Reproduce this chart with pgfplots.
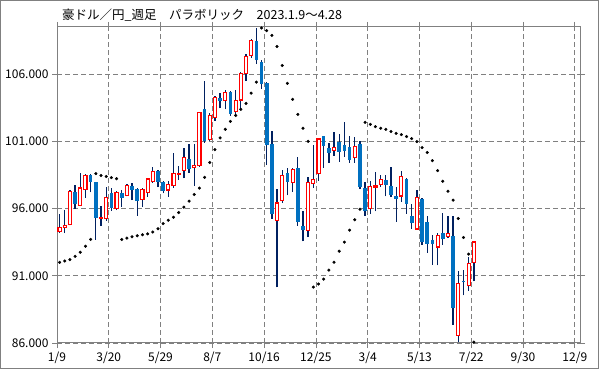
\documentclass[border=0pt]{standalone}
\usepackage{pgfplots}
\pgfplotsset{compat=1.18}
\usepackage{pgfplotstable}
\usepackage{fontspec}
\setmainfont{Noto Sans CJK JP}
\definecolor{candleblue}{RGB}{0,112,192}
\definecolor{candlered}{RGB}{255,0,0}
\definecolor{wick}{RGB}{0,32,96}
\definecolor{gridgray}{RGB}{128,128,128}

% up (red, hollow) candles: index, open, high, low, close
\pgfplotstableread{
i o h l c
0 94.28 95.63 94.18 94.58
1 94.58 95.88 94.18 94.73
2 94.80 97.38 94.75 97.28
4 96.23 98.63 96.20 97.53
5 97.43 98.55 96.80 98.48
8 95.27 96.18 94.70 95.32
9 95.25 97.58 95.10 96.83
11 96.00 97.30 95.88 97.20
13 96.98 97.83 96.90 97.73
16 96.68 97.55 96.13 97.43
17 97.20 98.30 96.88 98.20
18 97.98 99.08 97.90 98.75
21 97.38 98.08 96.88 97.80
22 97.73 100.15 97.55 98.63
23 98.53 99.20 98.13 98.63
24 98.85 100.48 98.25 99.81
26 99.04 100.78 97.70 99.22
27 99.19 103.20 99.10 103.15
29 101.15 103.08 101.00 102.90
30 102.78 104.34 102.51 104.27
32 104.02 104.81 103.38 104.66
34 103.20 104.81 102.96 104.04
35 104.07 106.12 103.38 106.05
36 106.05 107.49 105.48 107.34
37 107.39 108.60 107.20 108.52
42 95.13 97.44 90.13 96.42
43 96.62 98.90 96.40 98.48
45 97.96 99.02 97.26 98.90
48 94.37 98.35 93.87 97.96
49 97.88 100.75 97.56 98.18
50 98.62 101.25 98.08 101.17
53 100.33 101.67 99.94 100.55
57 99.81 101.35 99.42 100.63
60 95.98 98.03 95.58 97.66
61 97.60 98.75 95.78 97.70
62 97.80 98.50 97.63 98.15
66 96.92 98.77 96.52 98.40
69 94.47 97.39 94.42 96.82
73 93.13 94.17 91.77 94.02
75 93.92 95.41 93.80 94.17
77 86.57 91.35 86.07 90.43
79 90.26 92.41 89.90 91.94
80 91.99 93.60 90.58 93.52
}\upData

% down (blue, filled) candles: index, open, high, low, close
\pgfplotstableread{
i o h l c
3 97.20 97.73 96.00 96.33
6 98.48 98.55 97.20 98.00
7 97.98 98.00 93.68 95.30
10 97.15 97.55 95.85 96.05
12 97.15 97.38 96.10 96.80
14 97.70 97.93 96.63 97.38
15 97.43 97.55 95.45 96.55
19 98.80 98.88 97.60 98.00
20 98.00 98.08 97.13 97.33
25 99.69 100.78 98.67 98.97
28 103.38 105.46 100.90 101.05
31 104.22 104.56 103.45 104.02
33 104.66 104.76 102.90 103.05
38 108.45 109.40 106.74 107.04
39 106.92 107.04 104.90 105.23
40 105.36 105.43 99.22 100.73
41 100.80 101.77 95.23 95.58
44 98.62 99.02 96.97 97.98
46 99.02 99.84 94.73 95.03
47 94.71 95.80 93.55 94.42
51 101.40 101.40 99.02 100.68
52 100.50 100.85 99.42 100.16
54 100.95 101.54 99.49 100.23
55 100.70 102.41 99.84 100.31
56 100.58 101.37 99.42 99.59
58 100.78 101.05 97.44 97.63
59 97.51 98.00 95.48 95.78
63 98.10 98.50 96.90 97.78
64 97.68 99.12 96.84 96.97
65 96.94 97.58 95.00 96.74
67 98.20 98.25 95.63 96.37
68 95.46 96.32 94.47 94.89
70 96.72 96.77 93.30 93.48
71 94.99 95.41 92.73 93.38
72 93.67 94.04 91.82 93.33
74 94.19 95.65 93.30 93.70
76 93.95 95.41 87.36 88.62
78 90.63 91.40 89.54 90.53
}\downData

% parabolic SAR
\pgfplotstableread{
i s
0 92.00
1 92.10
2 92.20
3 92.45
4 92.75
5 93.20
6 93.70
7 98.60
8 98.45
9 98.38
10 98.30
11 98.22
12 93.70
13 93.80
14 93.90
15 93.98
16 94.05
17 94.12
18 94.25
19 94.50
20 94.88
21 95.13
22 95.35
23 95.70
24 96.10
25 96.55
26 97.05
27 97.52
28 98.32
29 99.43
30 100.38
31 101.25
32 101.89
33 102.48
34 102.92
35 103.38
36 103.82
37 104.58
38 105.40
39 109.43
40 109.23
41 108.87
42 108.05
43 106.64
44 105.31
45 104.12
46 103.00
47 101.97
48 101.00
49 90.16
50 90.38
51 90.75
52 91.42
53 92.01
54 92.83
55 93.50
56 94.39
57 95.16
58 95.95
59 102.41
60 102.26
61 102.09
62 101.97
63 101.89
64 101.72
65 101.59
66 101.50
67 101.35
68 101.20
69 100.98
70 100.53
71 100.16
72 99.56
73 98.82
74 98.03
75 97.29
76 96.62
77 95.26
78 93.85
79 92.61
80 86.07
}\sarData

\begin{document}
\begin{tikzpicture}
\useasboundingbox (0,0) rectangle (599bp,369bp);
\fill[white] (0,0) rectangle (599bp,369bp);
\draw[gridgray, line width=1bp] (0.5bp,0.5bp) rectangle (598.5bp,368.5bp);
\node[anchor=west, inner sep=0pt, font=\fontsize{12.5bp}{14bp}\selectfont] at (62bp,354bp)
  {豪ドル／円\_週足　パラボリック　2023.1.9～4.28};
\begin{axis}[
  at={(57bp,26bp)}, anchor=south west,
  scale only axis, width=523bp, height=316bp,
  xmin=0, xmax=101, ymin=86, ymax=109.5,
  xtick={0,10,...,100},
  xticklabels={1/9,3/20,5/29,8/7,10/16,12/25,3/4,5/13,7/22,9/30,12/9},
  ytick={86,91,96,101,106},
  yticklabels={86.000,91.000,96.000,101.000,106.000},
  ticklabel style={font=\fontsize{12bp}{14bp}\selectfont, text=black},
  grid=major,
  major grid style={draw=gridgray, line width=0.8bp, dash pattern=on 5bp off 3bp},
  axis line style={draw=gridgray, line width=1bp},
  tick style={draw=gridgray, line width=0.8bp},
  tick align=outside,
  major tick length=5bp,
  clip=false,
]
% wicks
\addplot[draw=none, mark=none, forget plot,
  error bars/.cd, y dir=plus, y explicit, error mark=none,
  error bar style={draw=wick, line width=1.3bp}]
  table[x expr=\thisrow{i}+0.5, y=l, y error plus expr=\thisrow{h}-\thisrow{l}] {\upData};
\addplot[draw=none, mark=none, forget plot,
  error bars/.cd, y dir=plus, y explicit, error mark=none,
  error bar style={draw=wick, line width=1.3bp}]
  table[x expr=\thisrow{i}+0.5, y=l, y error plus expr=\thisrow{h}-\thisrow{l}] {\downData};
% down bodies
\addplot[draw=none, mark=none, forget plot,
  error bars/.cd, y dir=plus, y explicit, error mark=none,
  error bar style={draw=candleblue, line width=3.6bp}]
  table[x expr=\thisrow{i}+0.5, y=c, y error plus expr=\thisrow{o}-\thisrow{c}] {\downData};
% up bodies (red outline, white inside)
\addplot[draw=none, mark=none, forget plot,
  error bars/.cd, y dir=plus, y explicit, error mark=none,
  error bar style={draw=candlered, line width=4.2bp}]
  table[x expr=\thisrow{i}+0.5, y expr=\thisrow{o}-0.04, y error plus expr=\thisrow{c}-\thisrow{o}+0.08] {\upData};
\addplot[draw=none, mark=none, forget plot,
  error bars/.cd, y dir=plus, y explicit, error mark=none,
  error bar style={draw=white, line width=2.0bp}]
  table[x expr=\thisrow{i}+0.5, y expr=\thisrow{o}+0.05, y error plus expr={max(0,\thisrow{c}-\thisrow{o}-0.10)}] {\upData};
% SAR
\addplot[only marks, mark=*, mark size=1.35bp, draw=black, fill=black]
  table[x expr=\thisrow{i}+0.5, y=s] {\sarData};
\end{axis}
\end{tikzpicture}
\end{document}
